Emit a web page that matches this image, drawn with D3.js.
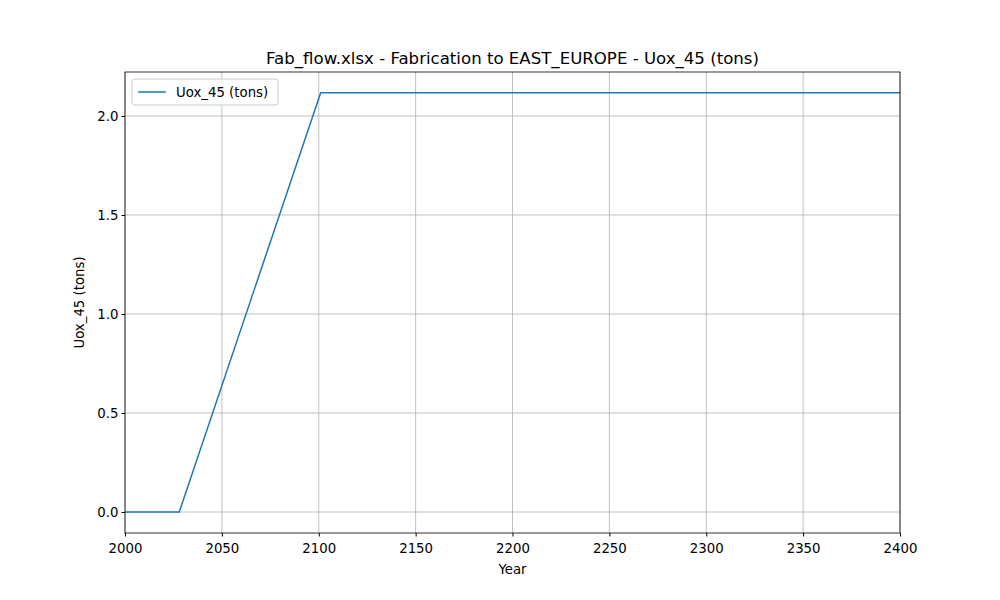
<!DOCTYPE html>
<html><head><meta charset="utf-8">
<script src="https://cdn.jsdelivr.net/npm/d3@7"></script>
<style>body{margin:0;background:#fff}text{font-family:"DejaVu Sans",sans-serif}</style>
</head><body>
<script>
// values
var years = [2000, 2028, 2101, 2400];
var uox45 = [0, 0, 2.117, 2.117];
var xTicks = [2000, 2050, 2100, 2150, 2200, 2250, 2300, 2350, 2400];
var yTicks = [0, 0.5, 1.0, 1.5, 2.0];
var title = "Fab_flow.xlsx - Fabrication to EAST_EUROPE - Uox_45 (tons)";
var seriesName = "Uox_45 (tons)";

var L = 125, R = 900, T = 72, B = 533;
var svg = d3.select("body").append("svg").attr("width", 1000).attr("height", 600);
var x = d3.scaleLinear().domain([2000, 2400]).range([L, R]);
var y = d3.scaleLinear().domain([-0.106, 2.222]).range([B, T]);

// grid
svg.append("g").selectAll("line").data(xTicks).enter().append("line")
  .attr("x1", d => x(d)).attr("x2", d => x(d)).attr("y1", T).attr("y2", B)
  .attr("stroke", "#b0b0b0").attr("stroke-width", 0.8);
svg.append("g").selectAll("line").data(yTicks).enter().append("line")
  .attr("x1", L).attr("x2", R).attr("y1", d => y(d)).attr("y2", d => y(d))
  .attr("stroke", "#b0b0b0").attr("stroke-width", 0.8);

var xa = svg.append("g").attr("transform", "translate(0," + B + ")")
  .call(d3.axisBottom(x).tickValues(xTicks).tickFormat(d3.format("d")).tickSizeOuter(0).tickSize(3.5));
var ya = svg.append("g").attr("transform", "translate(" + L + ",0)")
  .call(d3.axisLeft(y).tickValues(yTicks).tickFormat(d3.format(".1f")).tickSizeOuter(0).tickSize(3.5));
[xa, ya].forEach(a => { a.selectAll("text").attr("font-size", 13.3).attr("fill", "#000"); a.select(".domain").remove(); });
xa.selectAll("text").attr("dy", "1.05em");

var pts = years.map((d, i) => [d, uox45[i]]);
svg.append("path").datum(pts)
  .attr("d", d3.line().x(d => x(d[0])).y(d => y(d[1])))
  .attr("fill", "none").attr("stroke", "#1f77b4").attr("stroke-width", 1.5);

svg.append("rect").attr("x", L).attr("y", T).attr("width", R - L).attr("height", B - T)
  .attr("fill", "none").attr("stroke", "#000").attr("stroke-width", 0.8);

svg.append("text").attr("x", (L + R) / 2).attr("y", 64).attr("text-anchor", "middle")
  .attr("font-size", 16.6).text(title);
svg.append("text").attr("x", (L + R) / 2).attr("y", 574).attr("text-anchor", "middle")
  .attr("font-size", 13.3).text("Year");
svg.append("text").attr("transform", "translate(84," + (T + B) / 2 + ") rotate(-90)")
  .attr("text-anchor", "middle").attr("font-size", 13.3).text(seriesName);

// legend
var lg = svg.append("g").attr("transform", "translate(132,79)");
lg.append("rect").attr("width", 146).attr("height", 26).attr("rx", 3)
  .attr("fill", "#fff").attr("fill-opacity", 0.8).attr("stroke", "#ccc");
lg.append("line").attr("x1", 6).attr("x2", 34).attr("y1", 13).attr("y2", 13)
  .attr("stroke", "#1f77b4").attr("stroke-width", 1.5);
lg.append("text").attr("x", 44).attr("y", 17.5).attr("font-size", 13.3).text(seriesName);
</script>
</body></html>
